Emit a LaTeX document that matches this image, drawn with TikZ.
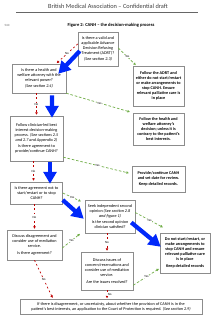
\documentclass[tikz,border=0pt]{standalone}
\usepackage{fontspec}
\setmainfont{Carlito}
\usetikzlibrary{arrows.meta,positioning,shadows}
\definecolor{bmared}{RGB}{192,0,0}
\definecolor{bmagreen}{RGB}{112,173,71}
\definecolor{bmablue}{RGB}{0,40,250}
\definecolor{boxgray}{RGB}{140,140,140}

\begin{document}
\begin{tikzpicture}[x=1mm,y=-1mm,
  every node/.style={font=\fontsize{12}{14.2}\selectfont},
  box/.style={draw=boxgray,line width=0.5mm,fill=white,align=center,inner sep=1mm,drop shadow={shadow xshift=0.7mm,shadow yshift=-0.7mm,opacity=0.3}},
  outbox/.style={box,font={\fontsize{12}{14.2}\selectfont\bfseries}},
  nolink/.style={draw=bmared,line width=0.7mm,dash pattern=on 1.8mm off 2.4mm,-{Triangle[length=2.4mm,width=2.4mm]},shorten >=1mm},
  yeslink/.style={draw=bmagreen,line width=0.7mm,dash pattern=on 2.6mm off 1.8mm,-{Triangle[length=2.4mm,width=2.4mm]},shorten >=1mm},
  mainpath/.style={draw=bmablue,line width=4.2mm,-{Triangle[length=12mm,width=13mm]}},
  lbl/.style={fill=white,inner sep=0.5mm,font=\fontsize{9}{10}\selectfont}]
  \useasboundingbox (0,0) rectangle (216,320);
  \node[font=\fontsize{18}{20}\selectfont,text=black!75] (header) at (108,6) {British Medical Association – Confidential draft};
  \draw[black!60,line width=0.3mm] (16,12) -- (198,12);
  \node[font=\fontsize{9}{10}\selectfont,text=black!60] (lineno) at (7,25) {540};
  \node[font={\fontsize{13}{15}\selectfont\bfseries}] (title) at (111,25) {Figure 2: CANH – the decision-making process};

  \node[box,minimum width=40mm,minimum height=34mm] (adrt) at (98,49) {Is there a valid and\\applicable Advance\\Decision Refusing\\Treatment (ADRT)?\\[1.5mm]\textit{(See section 2.3)}};
  \node[box,minimum width=54mm,minimum height=29mm] (welfare) at (39,78.5) {Is there a health and\\welfare attorney with the\\relevant power?\\[1.5mm]\textit{(See section 2.4)}};
  \node[outbox,minimum width=51mm,minimum height=40mm] (followadrt) at (158.5,86) {Follow the ADRT and\\either do not start/restart\\or make arrangements to\\stop CANH. Ensure\\relevant palliative care is\\in place};
  \node[outbox,minimum width=51mm,minimum height=32mm] (followatt) at (158.5,129) {Follow the health and\\welfare attorney's\\decision; unless it is\\contrary to the patient's\\best interests.};
  \node[box,minimum width=53mm,minimum height=45mm] (clinician) at (36.5,138.5) {Follow clinician-led best\\interest decision-making\\process. \textit{(See sections 2.5}\\\textit{and 2.7 and Appendix 2)}\\[1.5mm]Is there agreement to\\provide/continue CANH?};
  \node[outbox,minimum width=53mm,minimum height=26mm] (provide) at (158.5,179) {Provide/continue CANH\\and set date for review.\\[1.5mm]Keep detailed records.};
  \node[box,minimum width=52mm,minimum height=22mm] (notstart) at (36.5,193) {Is there agreement not to\\start/restart or to stop\\CANH?};
  \node[box,minimum width=50mm,minimum height=33mm] (second) at (110,216.5) {Seek independent second\\opinion \textit{(See section 2.8}\\\textit{and figure 1)}\\[1.5mm]Is the second opinion\\clinician satisfied?};
  \node[box,minimum width=55mm,minimum height=30mm] (mediation) at (34.5,245) {Discuss disagreement and\\consider use of mediation\\service.\\[1.5mm]Is there agreement?};
  \node[outbox,minimum width=50mm,minimum height=40mm] (donot) at (185,253) {Do not start/restart, or\\make arrangements to\\stop CANH and ensure\\relevant palliative care\\is in place\\[1.5mm]Keep detailed records};
  \node[box,minimum width=52mm,minimum height=38mm] (issues) at (107,271) {Discuss issues of\\concern/reservations and\\consider use of mediation\\service.\\[1.5mm]Are the issues resolved?};
  \node[box,minimum width=182mm,minimum height=15mm] (court) at (111,306.5) {If there is disagreement, or uncertainty, about whether the provision of CANH is in the\\patient's best interests, an application to the Court of Protection is required. \textit{(See section 2.9)}};

  \draw[nolink] ([yshift=5mm]adrt.west) -- node[lbl]{No} ([xshift=17mm]welfare.north);
  \draw[yeslink] ([yshift=1mm]adrt.east) -- node[lbl]{Yes} ([xshift=-22mm]followadrt.north);
  \draw[nolink] (welfare.south -| clinician.north) -- node[lbl]{No} (clinician.north);
  \draw[yeslink,shorten >=3mm] (welfare.south east) -- node[lbl]{Yes} (followatt.north west);
  \draw[yeslink,shorten >=3mm] ([yshift=4mm]clinician.south east) -- node[lbl]{Yes} ([yshift=-8mm]provide.north west);
  \draw[nolink] ([xshift=-3mm]clinician.south) -- node[lbl]{No} ([xshift=-3mm]notstart.north);
  \draw[yeslink] (notstart.east) -- node[lbl]{Yes} ([xshift=-3mm,yshift=-2mm]second.north west);
  \draw[nolink] (notstart.south -| mediation.north) -- node[lbl]{No} (mediation.north);
  \draw[yeslink] ([yshift=4mm]second.east) -- node[lbl]{Yes} ([xshift=4mm,yshift=5mm]donot.north west);
  \draw[nolink] (second.south -| issues.north) -- node[lbl]{No} (issues.north);
  \draw[yeslink] ([yshift=-3mm]mediation.east) -- node[lbl]{Yes} ([xshift=-4mm]second.south west);
  \draw[nolink] (mediation.south) -- node[lbl]{No} ([xshift=-58mm]court.north);
  \draw[yeslink] ([yshift=5mm]issues.south east) -- node[lbl]{Yes} ([yshift=5mm]donot.south west);
  \draw[nolink,shorten >=0.5mm] (issues.south) -- node[lbl,right]{No} (issues.south |- court.north);

  \draw[mainpath] ([xshift=2mm,yshift=-2mm]adrt.west) -- ([xshift=-8mm,yshift=-10mm]welfare.north east);
  \draw[mainpath] ([xshift=13mm,yshift=-2mm]welfare.south) -- ([xshift=15.5mm,yshift=-2mm]clinician.north);
  \draw[mainpath] ([xshift=13.5mm,yshift=-1mm]clinician.south) -- ([xshift=13.5mm,yshift=-2mm]notstart.north);
  \draw[mainpath] ([yshift=-7mm]notstart.east) -- ([xshift=-1mm,yshift=-19mm]second.north west);
  \draw[mainpath] ([xshift=-4mm,yshift=-6mm]second.east) -- ([xshift=1mm,yshift=-14mm]donot.north west);
\end{tikzpicture}
\end{document}
